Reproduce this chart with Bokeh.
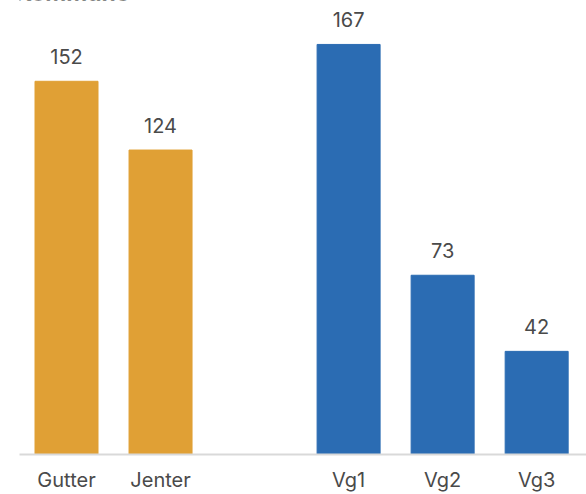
from bokeh.plotting import figure
from bokeh.models import ColumnDataSource, Range1d, FixedTicker
from bokeh.core.properties import value
from bokeh.embed import file_html
from bokeh.resources import INLINE

title_text = "Kommune"
categories = ["Gutter", "Jenter", "Vg1", "Vg2", "Vg3"]
groups = ["kjonn", "kjonn", "trinn", "trinn", "trinn"]
values = [152, 124, 167, 73, 42]
group_colors = {"kjonn": "#E0A035", "trinn": "#2B6CB3"}

FONT = "Inter"
Y_END = 184.9

# positions: leave one empty slot between the two groups
xs = []
gap = 0
for i, g in enumerate(groups):
    if i > 0 and g != groups[i - 1]:
        gap += 1
    xs.append(i + gap)

src = ColumnDataSource(dict(
    x=xs, top=values, cat=categories,
    color=[group_colors[g] for g in groups],
    label=[str(v) for v in values],
))

p = figure(width=586, height=494, output_backend="svg", toolbar_location=None,
           x_range=Range1d(-0.5, 5.53), y_range=Range1d(0, Y_END),
           min_border_left=19, min_border_right=0, min_border_top=0,
           min_border_bottom=39)

p.vbar(x="x", top="top", width=0.67, color="color", source=src)
p.text(x="x", y="top", text="label", source=src, text_align="center",
       text_baseline="bottom", y_offset=-17, text_font=value(FONT),
       text_font_size="20px", text_color="#4a4a4a")

# title, mostly cut off at the top edge as in the reference
p.text(x=[-0.5], y=[Y_END], text=[title_text], x_offset=-4, y_offset=-8,
       text_align="left", text_baseline="alphabetic", text_font=value(FONT),
       text_font_style="bold", text_font_size="23px", text_color="#1a1a1a")

p.yaxis.visible = False
p.xgrid.visible = False
p.ygrid.visible = False
p.outline_line_color = None

p.xaxis.ticker = FixedTicker(ticks=xs)
p.xaxis.major_label_overrides = {x: c for x, c in zip(xs, categories)}
p.xaxis.major_tick_line_color = None
p.xaxis.major_tick_out = 0
p.xaxis.major_tick_in = 0
p.xaxis.minor_tick_line_color = None
p.xaxis.minor_tick_out = 0
p.xaxis.axis_line_color = "#D9D9D9"
p.xaxis.axis_line_width = 2
p.xaxis.major_label_standoff = 13
p.xaxis.major_label_text_font = FONT
p.xaxis.major_label_text_font_size = "20px"
p.xaxis.major_label_text_color = "#4a4a4a"

open("out.html", "w").write(file_html(p, INLINE))
